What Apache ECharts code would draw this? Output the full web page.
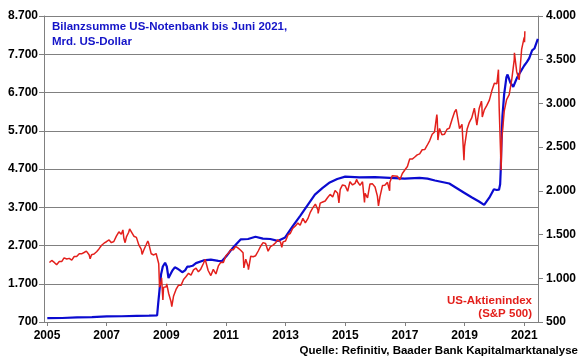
<!DOCTYPE html>
<html><head><meta charset="utf-8">
<script src="https://cdn.jsdelivr.net/npm/echarts@6/dist/echarts.min.js"></script>
<style>html,body{margin:0;padding:0;background:#fff}#c{width:580px;height:359px}</style>
</head><body><div id="c"></div>
<script>
// Fed balance sheet (Mrd. US-Dollar)
var fedDates = ["2005-01-05","2005-07-06","2006-01-04","2006-07-05","2007-01-03","2007-07-04","2008-01-02","2008-06-04","2008-09-10","2008-09-24","2008-10-08","2008-10-29","2008-11-19","2008-12-17","2009-01-07","2009-01-28","2009-02-18","2009-03-18","2009-04-15","2009-05-13","2009-06-17","2009-07-15","2009-08-19","2009-09-16","2009-10-14","2009-11-18","2009-12-30","2010-03-31","2010-06-30","2010-09-29","2010-11-10","2011-01-05","2011-03-30","2011-06-29","2011-09-28","2011-12-28","2012-03-28","2012-06-27","2012-09-26","2012-12-26","2013-03-27","2013-06-26","2013-09-25","2013-12-25","2014-03-26","2014-06-25","2014-09-24","2014-12-31","2015-06-24","2015-12-30","2016-06-29","2016-12-28","2017-06-28","2017-10-04","2018-01-03","2018-06-27","2018-12-26","2019-03-27","2019-06-26","2019-08-28","2019-09-11","2019-10-30","2019-12-25","2020-01-29","2020-02-26","2020-03-11","2020-03-18","2020-03-25","2020-04-08","2020-04-29","2020-05-27","2020-06-10","2020-07-15","2020-08-19","2020-10-07","2020-11-04","2020-12-30","2021-02-03","2021-03-03","2021-04-07","2021-05-05","2021-06-16"];
var fedValues = [800,805,820,830,845,850,860,865,870,1200,1500,1950,2150,2250,2150,1850,1900,2050,2130,2100,2050,2000,2050,2150,2150,2170,2240,2310,2330,2300,2290,2420,2650,2860,2870,2930,2880,2870,2820,2910,3200,3470,3750,4030,4200,4350,4440,4500,4480,4490,4470,4450,4470,4450,4400,4320,4080,3960,3850,3760,3770,3950,4170,4150,4160,4300,4670,5250,6080,6650,7100,7170,6950,6850,7100,7200,7400,7500,7600,7800,7850,8100];

// S&P 500
var spDates = [
"2005-01-31","2005-02-28","2005-03-31","2005-04-29","2005-05-31","2005-06-30","2005-07-29","2005-08-31","2005-09-30","2005-10-31","2005-11-30","2005-12-30",
"2006-01-31","2006-02-28","2006-03-31","2006-04-28","2006-05-31","2006-06-13","2006-06-30","2006-07-31","2006-08-31","2006-09-29","2006-10-31","2006-11-30","2006-12-29",
"2007-01-31","2007-02-28","2007-03-30","2007-04-30","2007-05-31","2007-06-29","2007-07-19","2007-07-31","2007-08-15","2007-08-31","2007-09-28","2007-10-09","2007-10-31","2007-11-30","2007-12-31",
"2008-01-31","2008-02-29","2008-03-10","2008-03-31","2008-04-30","2008-05-19","2008-05-30","2008-06-30","2008-07-31","2008-08-29","2008-09-30","2008-10-10","2008-10-31","2008-11-04","2008-11-20","2008-11-28","2008-12-31",
"2009-01-06","2009-01-30","2009-02-27","2009-03-09","2009-03-31","2009-04-30","2009-05-29","2009-06-30","2009-07-31","2009-08-31","2009-09-30","2009-10-30","2009-11-30","2009-12-31",
"2010-01-29","2010-02-26","2010-03-31","2010-04-23","2010-04-30","2010-05-28","2010-06-30","2010-07-02","2010-07-30","2010-08-31","2010-09-30","2010-10-29","2010-11-30","2010-12-31",
"2011-01-31","2011-02-28","2011-03-31","2011-04-29","2011-05-31","2011-06-30","2011-07-29","2011-08-08","2011-08-31","2011-09-30","2011-10-03","2011-10-31","2011-11-30","2011-12-30",
"2012-01-31","2012-02-29","2012-03-30","2012-04-30","2012-05-31","2012-06-29","2012-07-31","2012-08-31","2012-09-28","2012-10-31","2012-11-15","2012-11-30","2012-12-31",
"2013-01-31","2013-02-28","2013-03-28","2013-04-30","2013-05-31","2013-06-28","2013-07-31","2013-08-30","2013-09-30","2013-10-31","2013-11-29","2013-12-31",
"2014-01-31","2014-02-03","2014-02-28","2014-03-31","2014-04-30","2014-05-30","2014-06-30","2014-07-31","2014-08-29","2014-09-30","2014-10-15","2014-10-31","2014-11-28","2014-12-31",
"2015-01-30","2015-02-27","2015-03-31","2015-04-30","2015-05-21","2015-05-29","2015-06-30","2015-07-31","2015-08-24","2015-08-31","2015-09-30","2015-10-30","2015-11-30","2015-12-31",
"2016-01-29","2016-02-11","2016-02-29","2016-03-31","2016-04-29","2016-05-31","2016-06-27","2016-06-30","2016-07-29","2016-08-31","2016-09-30","2016-10-31","2016-11-30","2016-12-30",
"2017-01-31","2017-02-28","2017-03-31","2017-04-28","2017-05-31","2017-06-30","2017-07-31","2017-08-31","2017-09-29","2017-10-31","2017-11-30","2017-12-29",
"2018-01-26","2018-01-31","2018-02-08","2018-02-28","2018-03-29","2018-04-30","2018-05-31","2018-06-29","2018-07-31","2018-08-31","2018-09-20","2018-09-28","2018-10-31","2018-11-30","2018-12-24","2018-12-31",
"2019-01-31","2019-02-28","2019-03-29","2019-04-30","2019-05-31","2019-06-28","2019-07-26","2019-07-31","2019-08-05","2019-08-30","2019-09-30","2019-10-31","2019-11-29","2019-12-31",
"2020-01-31","2020-02-19","2020-02-28","2020-03-23","2020-03-31","2020-04-30","2020-05-29","2020-06-30","2020-07-31","2020-08-31","2020-09-02","2020-09-30","2020-10-30","2020-11-30","2020-12-31",
"2021-01-04","2021-01-08"];
var spValues = [
1181,1204,1181,1156,1191,1191,1234,1220,1228,1207,1249,1248,
1280,1280,1295,1311,1270,1223,1270,1277,1304,1336,1378,1401,1418,
1438,1407,1421,1482,1531,1503,1553,1455,1407,1474,1527,1565,1549,1481,1468,
1379,1331,1273,1323,1386,1427,1400,1280,1267,1283,1166,899,969,1006,752,896,903,
935,826,735,677,798,873,919,919,987,1021,1057,1036,1096,1115,
1074,1104,1169,1217,1187,1089,1031,1022,1102,1049,1141,1183,1181,1258,
1286,1327,1326,1364,1345,1321,1292,1119,1219,1131,1099,1253,1247,1258,
1312,1366,1408,1398,1310,1362,1379,1407,1441,1412,1353,1416,1426,
1498,1515,1569,1598,1631,1606,1686,1633,1682,1757,1806,1848,
1783,1742,1859,1872,1884,1924,1960,1931,2003,1972,1862,2018,2068,2059,
1995,2105,2068,2086,2131,2107,2063,2104,1868,1972,1920,2079,2080,2044,
1940,1829,1932,2060,2065,2097,2001,2099,2174,2171,2168,2126,2199,2239,
2279,2364,2363,2384,2412,2423,2470,2472,2519,2575,2648,2674,
2873,2824,2581,2714,2641,2648,2705,2718,2816,2902,2931,2914,2712,2760,2351,2507,
2704,2784,2834,2946,2752,2942,3026,2980,2844,2926,2977,3038,3141,3231,
3226,3386,2954,2237,2585,2912,3044,3100,3271,3500,3580,3363,3270,3622,3756,
3701,3825];

var yearTicks = [2005,2007,2009,2011,2013,2015,2017,2019,2021];
var leftTicks = [700,1700,2700,3700,4700,5700,6700,7700,8700];
var rightTicks = [500,1000,1500,2000,2500,3000,3500,4000];

function dec(s){
  var p = s.split('-').map(Number);
  var t0 = Date.UTC(p[0],0,1), t1 = Date.UTC(p[0]+1,0,1), t = Date.UTC(p[0],p[1]-1,p[2]);
  return p[0] + (t - t0)/(t1 - t0);
}
function fmt(v){ return String(v).replace(/\B(?=(\d{3})+(?!\d))/g,'.'); }

var fedData = fedDates.map(function(d,i){return [dec(d), fedValues[i]];});
var spData = spDates.map(function(d,i){return [dec(d), spValues[i]];});

var FONT = '"Liberation Sans", Arial, sans-serif';
var lbl = {color:'#000', fontFamily:FONT, fontWeight:'bold', fontSize:12};
var chart = echarts.init(document.getElementById('c'), null, {renderer:'canvas'});
chart.setOption({
  animation:false,
  backgroundColor:'#fff',
  grid:{left:44, right:42, top:16, bottom:37, containLabel:false},
  xAxis:{type:'value', min:2004.9, max:2021.46,
    axisLine:{show:true, lineStyle:{color:'#808080', width:1}},
    axisTick:{show:true, length:4, lineStyle:{color:'#808080'}, customValues:yearTicks},
    axisLabel:Object.assign({margin:8, customValues:yearTicks, formatter:function(v){return String(Math.round(v));}}, lbl),
    splitLine:{show:false}},
  yAxis:[
    {type:'value', min:700, max:8700, position:'left',
     axisLine:{show:true, lineStyle:{color:'#808080'}},
     axisTick:{show:true, length:5, lineStyle:{color:'#808080'}, customValues:leftTicks},
     axisLabel:Object.assign({margin:6, customValues:leftTicks, formatter:function(v){return fmt(v);}}, lbl),
     splitLine:{show:true, lineStyle:{color:'#808080', width:1}}},
    {type:'value', min:500, max:4000, position:'right',
     axisLine:{show:true, lineStyle:{color:'#808080'}},
     axisTick:{show:true, length:5, lineStyle:{color:'#808080'}, customValues:rightTicks},
     axisLabel:Object.assign({margin:8, customValues:rightTicks, formatter:function(v){return fmt(v);}}, lbl),
     splitLine:{show:false}}
  ],
  series:[
    {name:'Fed', type:'line', yAxisIndex:0, data:fedData, showSymbol:false, symbol:'none',
     lineStyle:{color:'#0b0bd0', width:2.2}, z:2},
    {name:'S&P', type:'line', yAxisIndex:1, data:spData, showSymbol:false, symbol:'none',
     lineStyle:{color:'#e3201c', width:1.5}, z:3}
  ],
  graphic:[
    {type:'text', left:52, top:19, style:{text:'Bilanzsumme US-Notenbank bis Juni 2021,\nMrd. US-Dollar', fill:'#1414c8', font:'bold 11.5px ' + FONT, lineHeight:15}},
    {type:'text', right:48, top:295, style:{text:'US-Aktienindex', fill:'#e3201c', font:'bold 11.5px ' + FONT}},
    {type:'text', right:48, top:308, style:{text:'(S&P 500)', fill:'#e3201c', font:'bold 11.5px ' + FONT}},
    {type:'text', right:2, top:345, style:{text:'Quelle: Refinitiv, Baader Bank Kapitalmarktanalyse', fill:'#000', font:'bold 11.5px ' + FONT}}
  ]
});
</script></body></html>
